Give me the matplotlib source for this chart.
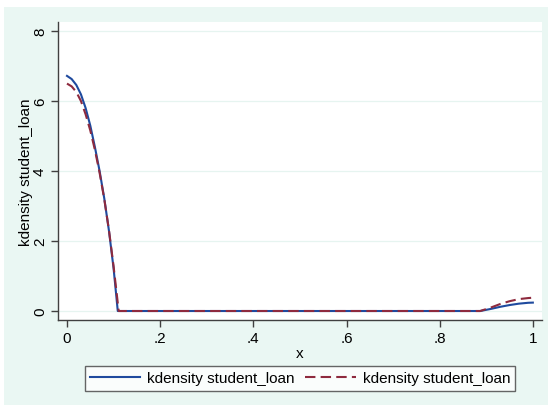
import matplotlib
matplotlib.use("Agg")
import matplotlib.pyplot as plt
from matplotlib.patches import Rectangle

plt.rcParams['font.family'] = ['Liberation Sans', 'DejaVu Sans']

# kernel density estimates of student_loan (two bandwidths)
x_head = [0.0, 0.01, 0.02, 0.03, 0.04, 0.05, 0.06, 0.07, 0.08, 0.09, 0.10, 0.109]
dens_a_head = [6.72, 6.63, 6.46, 6.19, 5.80, 5.30, 4.68, 4.00, 3.22, 2.30, 1.22, 0.0]
x_head_b = [0.0, 0.01, 0.02, 0.03, 0.04, 0.05, 0.06, 0.07, 0.08, 0.09, 0.10, 0.111]
dens_b_head = [6.50, 6.42, 6.26, 6.00, 5.62, 5.16, 4.60, 3.95, 3.20, 2.32, 1.28, 0.0]

x_tail = [0.887, 0.91, 0.93, 0.95, 0.97, 0.99, 1.0]
dens_a_tail = [0.0, 0.06, 0.12, 0.17, 0.21, 0.235, 0.24]
dens_b_tail = [0.0, 0.10, 0.20, 0.28, 0.34, 0.37, 0.38]

x_ticks = [0, 0.2, 0.4, 0.6, 0.8, 1.0]
x_labels = ["0", ".2", ".4", ".6", ".8", "1"]
y_ticks = [0, 2, 4, 6, 8]

xa = x_head + [0.5] + x_tail
ya = dens_a_head + [0.0] + dens_a_tail
xb = x_head_b + [0.5] + x_tail
yb = dens_b_head + [0.0] + dens_b_tail

fig = plt.figure(figsize=(5.48, 4.06), dpi=100, facecolor="white")
fig.patches.append(Rectangle((4 / 548, 0), 1, 1 - 8 / 406, transform=fig.transFigure,
                             facecolor="#eaf7f3", edgecolor="none", zorder=-10))

ax = fig.add_axes([58 / 548, 85 / 406, 483.7 / 548, 298 / 406])
ax.set_facecolor("white")

ax.plot(xa, ya, color="#1f4a9e", lw=1.5, label="kdensity student_loan")
ax.plot(xb, yb, color="#8e2a3e", lw=1.5, ls=(0, (5, 2.5)), label="kdensity student_loan")

ax.set_xlim(-0.0193, 1.019)
ax.set_ylim(-0.257, 8.26)
ax.set_xticks(x_ticks)
ax.set_xticklabels(x_labels)
ax.set_yticks(y_ticks)
ax.set_yticklabels([str(v) for v in y_ticks], rotation=90, va="center")
ax.grid(axis="y", color="#e6f4f0", lw=0.9)
ax.set_axisbelow(True)

for side in ["top", "right"]:
    ax.spines[side].set_visible(False)
for side in ["left", "bottom"]:
    ax.spines[side].set_color("#404040")
    ax.spines[side].set_linewidth(1.0)
ax.tick_params(direction="out", length=5, width=1.0, color="#404040",
               labelsize=11, labelcolor="black", pad=3)

ax.set_xlabel("x", fontsize=11, labelpad=1)
ax.set_ylabel("kdensity student_loan", fontsize=11)
ax.yaxis.set_label_coords(-0.052, 0.5)

leg = fig.legend(loc="center", bbox_to_anchor=(300 / 548, 26.5 / 406), ncol=2,
                 fontsize=11, frameon=True, fancybox=False, handlelength=3.3,
                 columnspacing=0.7, borderpad=0.35, handletextpad=0.45,
                 borderaxespad=0)
leg.get_frame().set_edgecolor("#404040")
leg.get_frame().set_linewidth(1.0)

fig.savefig("out.png", dpi=100, facecolor=fig.get_facecolor())
